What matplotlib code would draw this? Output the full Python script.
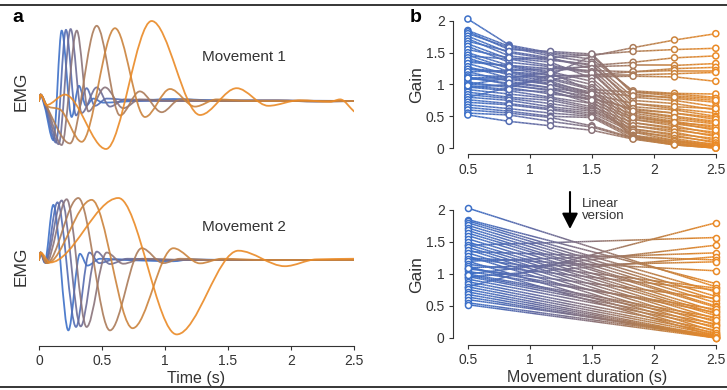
import numpy as np
import matplotlib.pyplot as plt
from matplotlib.path import Path
from matplotlib.patches import PathPatch
from matplotlib.collections import LineCollection
from matplotlib.colors import LinearSegmentedColormap, Normalize
from matplotlib.lines import Line2D

plt.rcParams['font.family'] = ['Liberation Sans', 'DejaVu Sans']

W, H = 727, 390

# EMG, movement 1: knots of each trace (time in s, amplitude in a.u.)
m1_t = [
    [0, 0.012, 0.045, 0.114, 0.18, 0.259, 0.317, 0.373, 0.431, 0.51, 0.75, 1.07, 1.33, 1.6, 2.5],
    [0, 0.012, 0.05, 0.135, 0.214, 0.294, 0.378, 0.444, 0.537, 0.8, 1.2, 2.5],
    [0, 0.012, 0.055, 0.156, 0.251, 0.339, 0.458, 0.563, 0.68, 1.0, 2.5],
    [0, 0.012, 0.06, 0.18, 0.30, 0.392, 0.524, 0.669, 0.80, 1.1, 1.9, 2.2, 2.5],
    [0, 0.012, 0.06, 0.246, 0.458, 0.643, 0.80, 0.974, 1.12, 1.4, 2.5],
    [0, 0.012, 0.07, 0.16, 0.339, 0.603, 0.841, 1.04, 1.238, 1.41, 1.7, 2.5],
    [0, 0.012, 0.06, 0.206, 0.532, 0.894, 1.278, 1.569, 1.82, 2.07, 2.31, 2.39, 2.5],
]
m1_v = [
    [0, 0.08, -0.07, -0.49, 0.88, -0.20, 0.19, -0.06, 0.03, -0.02, 0.0, 0.025, 0.01, 0.0, 0.0],
    [0, 0.08, -0.07, -0.52, 0.89, -0.18, 0.16, -0.06, 0.03, 0.0, 0.01, 0.0],
    [0, 0.08, -0.06, -0.54, 0.90, -0.15, 0.17, -0.07, 0.02, 0.0, 0.0],
    [0, 0.08, -0.06, -0.55, 0.88, -0.13, 0.17, -0.09, 0.02, 0.0, 0.01, -0.01, 0.0],
    [0, 0.08, -0.07, -0.53, 0.94, -0.18, 0.12, -0.14, 0.02, 0.0, 0.0],
    [0, 0.08, -0.07, -0.10, -0.51, 0.91, -0.20, 0.15, -0.07, 0.02, 0.0, 0.0],
    [0, 0.08, -0.05, 0.08, -0.60, 1.00, -0.175, 0.16, -0.06, 0.01, -0.01, 0.02, -0.13],
]

# EMG, movement 2
m2_t = [
    [0, 0.012, 0.045, 0.114, 0.233, 0.325, 0.384, 0.484, 0.7, 1.066, 1.2, 1.5, 2.5],
    [0, 0.012, 0.05, 0.146, 0.294, 0.40, 0.479, 0.6, 1.0, 2.5],
    [0, 0.012, 0.05, 0.18, 0.331, 0.458, 0.563, 0.7, 1.1, 2.5],
    [0, 0.012, 0.055, 0.22, 0.378, 0.537, 0.669, 0.82, 1.2, 2.5],
    [0, 0.012, 0.06, 0.312, 0.563, 0.815, 0.987, 1.12, 1.4, 2.5],
    [0, 0.012, 0.065, 0.418, 0.743, 1.066, 1.278, 1.45, 1.8, 2.5],
    [0, 0.012, 0.087, 0.63, 1.093, 1.582, 1.952, 2.2, 2.5],
]
m2_v = [
    [0, 0.12, -0.04, 0.89, -1.135, 0.10, -0.09, 0.02, 0.0, -0.02, 0.01, 0.0, 0.0],
    [0, 0.12, -0.04, 0.93, -1.08, 0.12, -0.05, 0.01, 0.0, 0.0],
    [0, 0.12, -0.04, 0.96, -1.07, 0.135, -0.065, 0.02, 0.0, 0.0],
    [0, 0.12, -0.05, 0.98, -1.08, 0.12, -0.06, 0.02, 0.0, 0.0],
    [0, 0.12, -0.05, 1.00, -1.135, 0.19, -0.05, 0.02, 0.0, 0.0],
    [0, 0.12, -0.05, 0.97, -1.10, 0.19, -0.054, 0.02, 0.0, 0.0],
    [0, 0.12, -0.04, 1.00, -1.20, 0.15, -0.10, 0.01, 0.02],
]

time_ticks = [0, 0.5, 1, 1.5, 2, 2.5]
time_labels = ['0', '0.5', '1', '1.5', '2', '2.5']

# gains per muscle for each movement duration
durations = [0.5, 0.833, 1.167, 1.5, 1.833, 2.167, 2.5]
dur_ticks = [0.5, 1, 1.5, 2, 2.5]
dur_labels = ['0.5', '1', '1.5', '2', '2.5']
gain_ticks = [0, 0.5, 1, 1.5, 2]
gain_labels = ['0', '0.5', '1', '1.5', '2']
gains = [
    [0.80, 0.95, 1.15, 1.45, 1.58, 1.70, 1.80],
    [1.45, 1.40, 1.42, 1.47, 1.52, 1.55, 1.57],
    [1.00, 1.10, 1.20, 1.30, 1.35, 1.42, 1.45],
    [1.20, 1.22, 1.25, 1.28, 1.30, 1.30, 1.33],
    [0.95, 1.00, 1.08, 1.15, 1.20, 1.25, 1.27],
    [1.35, 1.30, 1.25, 1.22, 1.20, 1.22, 1.22],
    [1.10, 1.12, 1.13, 1.15, 1.15, 1.17, 1.19],
    [1.25, 1.20, 1.15, 1.12, 1.13, 1.12, 1.05],
    [2.03, 1.62, 1.50, 1.45, 0.88, 0.85, 0.80],
    [1.85, 1.60, 1.48, 1.40, 0.90, 0.86, 0.85],
    [1.83, 1.55, 1.52, 1.48, 0.85, 0.78, 0.72],
    [1.80, 1.58, 1.45, 1.35, 0.80, 0.75, 0.65],
    [1.76, 1.50, 1.40, 1.30, 0.75, 0.70, 0.60],
    [1.72, 1.45, 1.38, 1.32, 0.70, 0.62, 0.55],
    [1.68, 1.52, 1.42, 1.25, 0.65, 0.60, 0.50],
    [1.64, 1.40, 1.30, 1.20, 0.60, 0.55, 0.48],
    [1.60, 1.35, 1.28, 1.18, 0.58, 0.50, 0.42],
    [1.55, 1.42, 1.35, 1.10, 0.55, 0.45, 0.38],
    [1.50, 1.30, 1.20, 1.05, 0.50, 0.40, 0.35],
    [1.46, 1.25, 1.15, 1.00, 0.45, 0.38, 0.30],
    [1.42, 1.20, 1.10, 0.95, 0.40, 0.32, 0.25],
    [1.38, 1.28, 1.18, 0.90, 0.35, 0.28, 0.20],
    [1.33, 1.15, 1.05, 0.85, 0.30, 0.22, 0.15],
    [1.28, 1.10, 1.00, 0.80, 0.25, 0.18, 0.10],
    [1.24, 1.18, 1.08, 0.92, 0.88, 0.82, 0.78],
    [1.20, 1.05, 0.95, 0.75, 0.20, 0.12, 0.06],
    [1.15, 1.12, 1.02, 0.88, 0.82, 0.80, 0.75],
    [1.12, 1.00, 0.90, 0.70, 0.18, 0.10, 0.03],
    [1.08, 1.08, 1.00, 0.85, 0.70, 0.65, 0.62],
    [1.04, 0.95, 0.85, 0.78, 0.62, 0.55, 0.45],
    [1.00, 0.98, 0.92, 0.80, 0.52, 0.42, 0.32],
    [0.96, 0.90, 0.80, 0.70, 0.45, 0.35, 0.22],
    [0.92, 0.85, 0.78, 0.65, 0.40, 0.30, 0.18],
    [0.88, 0.80, 0.75, 0.62, 0.35, 0.25, 0.12],
    [0.84, 0.78, 0.70, 0.60, 0.30, 0.20, 0.08],
    [0.80, 0.75, 0.65, 0.58, 0.28, 0.15, 0.05],
    [0.76, 0.70, 0.62, 0.55, 0.25, 0.12, 0.02],
    [0.72, 0.68, 0.60, 0.52, 0.20, 0.08, 0.01],
    [0.68, 0.62, 0.55, 0.50, 0.18, 0.06, 0.00],
    [0.64, 0.58, 0.50, 0.48, 0.15, 0.05, 0.00],
    [0.60, 0.55, 0.48, 0.35, 0.16, 0.10, 0.04],
    [0.55, 0.52, 0.42, 0.33, 0.15, 0.07, 0.02],
    [0.52, 0.42, 0.35, 0.28, 0.14, 0.05, 0.00],
    [1.10, 1.02, 0.95, 0.85, 0.58, 0.48, 0.40],
    [0.98, 0.92, 0.88, 0.75, 0.48, 0.40, 0.28],
]

grad = LinearSegmentedColormap.from_list(
    'dur', ['#3d70c8', '#5f6aa6', '#8a737a', '#bb7f48', '#ea8a26'])
norm = Normalize(0.5, 2.5)
ink = '#333333'


def smooth_path(t, v):
    # monotone cubic through the knots, written as Bezier segments
    t = np.asarray(t, float)
    v = np.asarray(v, float)
    h = np.diff(t)
    d = np.diff(v) / h
    m = np.zeros_like(v)
    m[0], m[-1] = d[0], d[-1]
    for i in range(1, len(v) - 1):
        if d[i - 1] * d[i] > 0:
            w1 = 2 * h[i] + h[i - 1]
            w2 = h[i] + 2 * h[i - 1]
            m[i] = (w1 + w2) / (w1 / d[i - 1] + w2 / d[i])
    verts = [(t[0], v[0])]
    for i in range(len(h)):
        verts += [(t[i] + h[i] / 3, v[i] + m[i] * h[i] / 3),
                  (t[i + 1] - h[i] / 3, v[i + 1] - m[i + 1] * h[i] / 3),
                  (t[i + 1], v[i + 1])]
    codes = [Path.MOVETO] + [Path.CURVE4] * (3 * len(h))
    return Path(verts, codes)


def px_axes(fig, left, top, right, bottom):
    return fig.add_axes([left / W, 1 - bottom / H, (right - left) / W, (bottom - top) / H])


def gradient_lines(x, y, n=30):
    # split each straight segment so the colour can follow the duration axis
    segs, cols = [], []
    for i in range(len(x) - 1):
        xs = np.linspace(x[i], x[i + 1], n + 1)
        ys = np.linspace(y[i], y[i + 1], n + 1)
        pts = np.column_stack([xs, ys])
        segs.extend(np.stack([pts[:-1], pts[1:]], axis=1))
        cols.extend(grad(norm((xs[:-1] + xs[1:]) / 2)))
    return segs, cols


fig = plt.figure(figsize=(W / 100, H / 100), dpi=100)

# ---- panel a: EMG traces ----
ax1 = px_axes(fig, 39, 13, 354, 157)
ax2 = px_axes(fig, 39, 185.6, 354, 346)
for ax, ts, vs in ((ax1, m1_t, m1_v), (ax2, m2_t, m2_v)):
    for k, (t, v) in enumerate(zip(ts, vs)):
        ax.add_patch(PathPatch(smooth_path(t, v), fill=False, edgecolor=grad(k / (len(ts) - 1)),
                               lw=1.3, alpha=0.9, joinstyle='round', capstyle='round'))
    ax.set_xlim(0, 2.5)
    for s in ax.spines.values():
        s.set_visible(False)
    ax.set_yticks([])
ax1.set_ylim(-0.7, 1.1)
ax1.set_xticks([])
ax2.set_ylim(-1.387, 1.2)
ax2.spines['bottom'].set_visible(True)
ax2.spines['bottom'].set_color(ink)
ax2.set_xticks(time_ticks, time_labels)
ax2.tick_params(axis='x', length=3, pad=3, colors=ink, labelsize=10)
ax2.set_xlabel('Time (s)', fontsize=11.5, color=ink, labelpad=2)

fig.text(21 / W, 1 - 91 / H, 'EMG', rotation=90, ha='center', va='center', fontsize=12.5, color=ink)
fig.text(21 / W, 1 - 266 / H, 'EMG', rotation=90, ha='center', va='center', fontsize=12.5, color=ink)
fig.text(202 / W, 1 - 57 / H, 'Movement 1', ha='left', va='center', fontsize=11, color=ink)
fig.text(202 / W, 1 - 227 / H, 'Movement 2', ha='left', va='center', fontsize=11, color=ink)

# ---- panel b: gains vs duration ----
ax3 = px_axes(fig, 453, 14.6, 722, 154.4)
ax4 = px_axes(fig, 453, 203.6, 722, 345)
x_all = np.array(durations)

segs, cols = [], []
for g in gains:
    s, c = gradient_lines(durations, g)
    segs += s
    cols += c
ax3.add_collection(LineCollection(segs, colors=cols, lw=1.1, zorder=2))
for g in gains:
    ax3.scatter(x_all, g, s=19, facecolors='white', edgecolors=grad(norm(x_all)), lw=1.1, zorder=3)

# linear version: straight from shortest to longest duration
first = [g[0] for g in gains]
last = [g[-1] for g in gains]
segs, cols = [], []
for a, b in zip(first, last):
    s, c = gradient_lines([durations[0], durations[-1]], [a, b], n=120)
    segs += s
    cols += c
ax4.add_collection(LineCollection(segs, colors=cols, lw=1.1, zorder=2))
ax4.scatter([durations[0]] * len(first), first, s=19, facecolors='white',
            edgecolors=grad(norm(durations[0])), lw=1.1, zorder=3)
ax4.scatter([durations[-1]] * len(last), last, s=19, facecolors='white',
            edgecolors=grad(norm(durations[-1])), lw=1.1, zorder=3)

for ax, lo in ((ax3, -0.1), (ax4, -0.11)):
    ax.set_xlim(0.38, 2.55)
    ax.set_ylim(lo, 2.1)
    ax.spines['top'].set_visible(False)
    ax.spines['right'].set_visible(False)
    ax.spines['left'].set_bounds(0, 2)
    ax.spines['bottom'].set_bounds(0.5, 2.5)
    ax.spines['left'].set_color(ink)
    ax.spines['bottom'].set_color(ink)
    ax.set_xticks(dur_ticks, dur_labels)
    ax.set_yticks(gain_ticks, gain_labels)
    ax.tick_params(length=3, pad=3, colors=ink, labelsize=10)
    ax.patch.set_visible(False)

fig.text(417 / W, 1 - 85 / H, 'Gain', rotation=90, ha='center', va='center', fontsize=12.5, color=ink)
fig.text(417 / W, 1 - 275 / H, 'Gain', rotation=90, ha='center', va='center', fontsize=12.5, color=ink)
ax4.set_xlabel('Movement duration (s)', fontsize=11.5, color=ink, labelpad=2)

# arrow between the two gain plots
fig.add_artist(plt.Annotation('', xy=(570 / W, 1 - 229 / H), xytext=(570 / W, 1 - 192 / H),
                              xycoords='figure fraction', textcoords='figure fraction',
                              arrowprops=dict(arrowstyle='-|>,head_length=0.47,head_width=0.24',
                                              mutation_scale=20, lw=1.5, color='black',
                                              shrinkA=0, shrinkB=0)))
fig.text(582 / W, 1 - 210 / H, 'Linear\nversion', ha='left', va='center', fontsize=9.5,
         color=ink, linespacing=1.1)

# panel letters and rules
fig.text(12 / W, 1 - 17 / H, 'a', fontsize=14, weight='bold', va='center', ha='left')
fig.text(410 / W, 1 - 17 / H, 'b', fontsize=14, weight='bold', va='center', ha='left')
fig.add_artist(Line2D([0, 1], [1 - 5 / H] * 2, color='black', lw=1.1, transform=fig.transFigure))
fig.add_artist(Line2D([0, 1], [1 - 387 / H] * 2, color='black', lw=1.1, transform=fig.transFigure))

fig.savefig('out.png', dpi=100)
